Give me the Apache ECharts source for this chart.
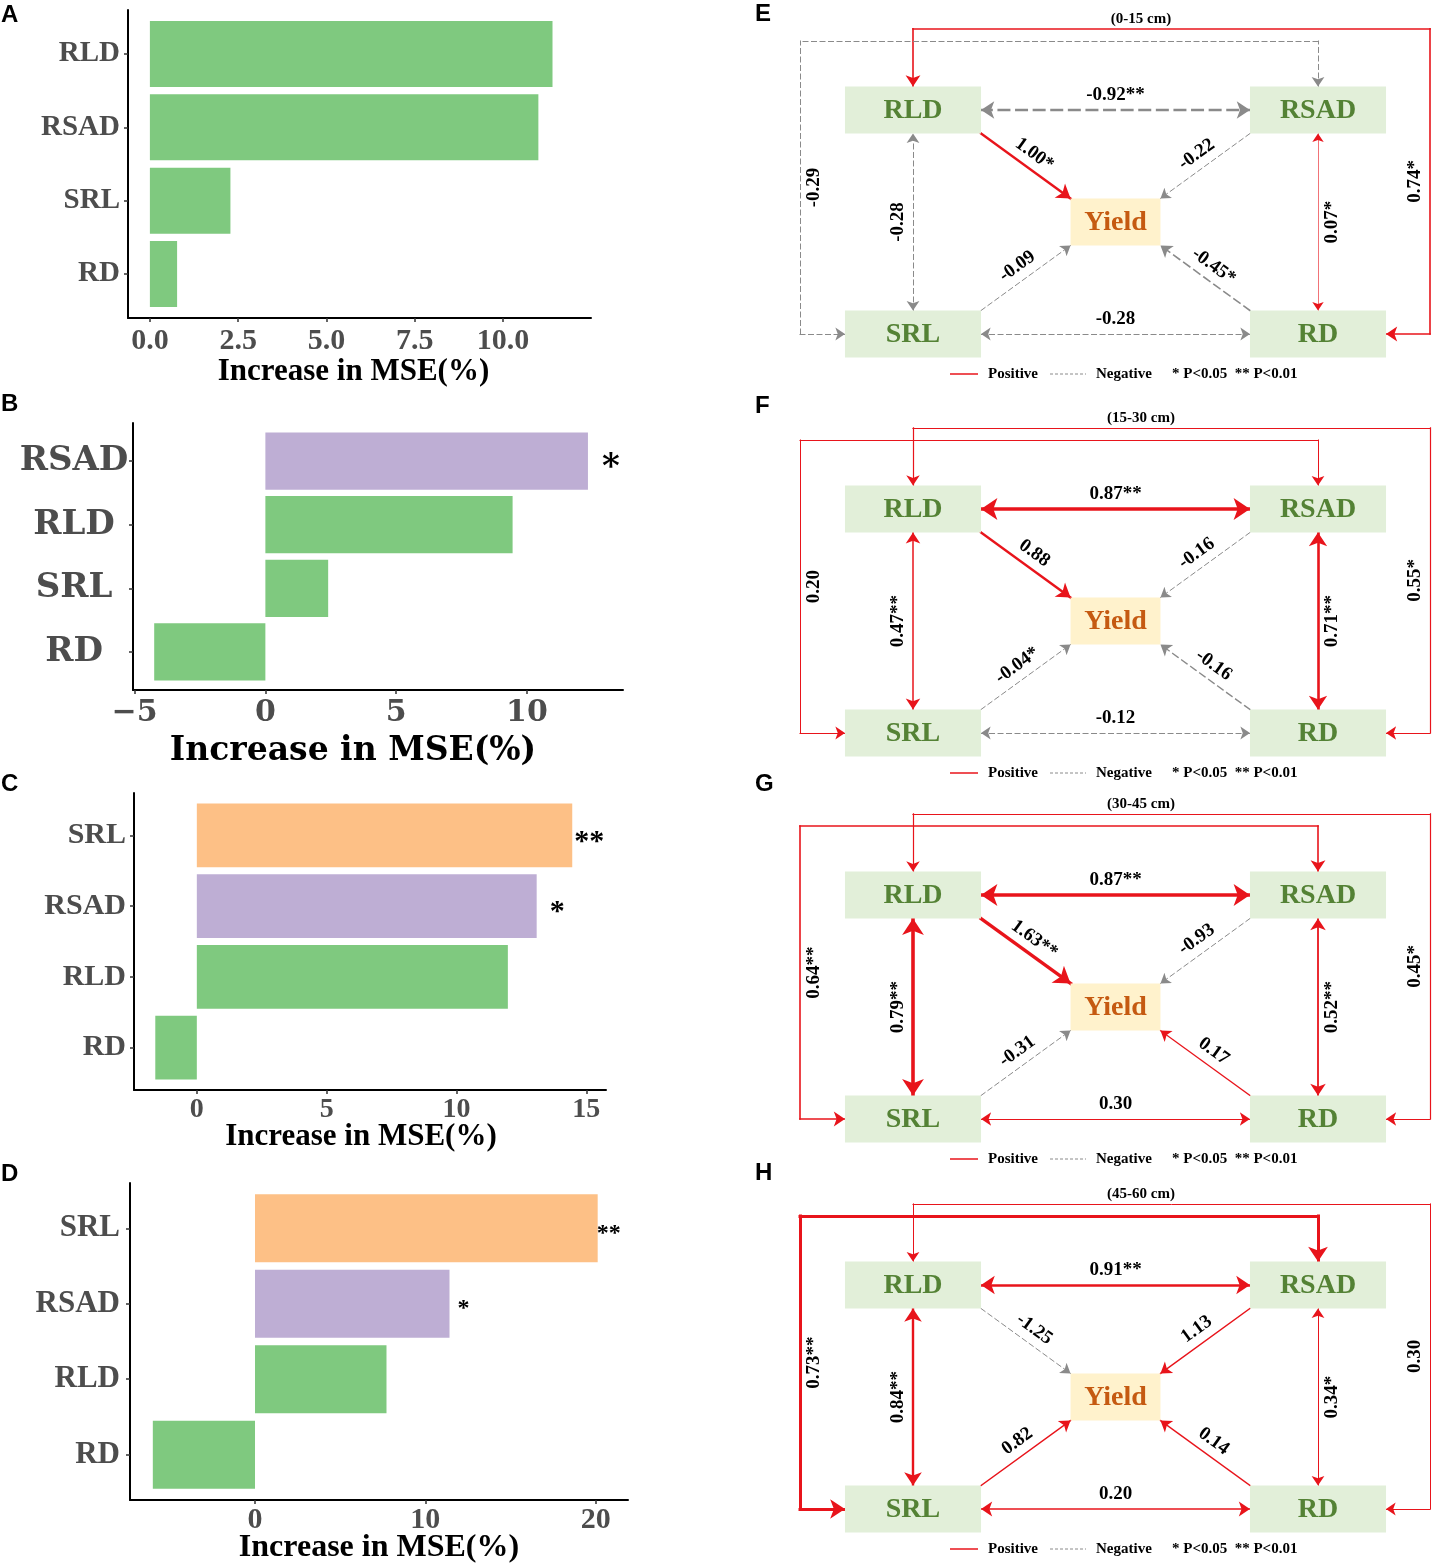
<!DOCTYPE html>
<html>
<head>
<meta charset="utf-8">
<title>Increase in MSE and path coefficients</title>
<script src="https://cdn.jsdelivr.net/npm/echarts@6/dist/echarts.min.js"></script>
<style>
  html, body { margin: 0; padding: 0; background: #fff; }
  #main { width: 1435px; height: 1566px; }
</style>
</head>
<body>
<div id="main"></div>
<script>
// random forest importance, panels A-D (top category first)
var catsA = ['RLD', 'RSAD', 'SRL', 'RD'];
var mseA = [11.4, 11.0, 2.28, 0.77];
var sigA = ['', '', '', ''];
var ticksA = [0, 2.5, 5, 7.5, 10];

var catsB = ['RSAD', 'RLD', 'SRL', 'RD'];
var mseB = [12.33, 9.45, 2.4, -4.25];
var sigB = ['*', '', '', ''];
var ticksB = [-5, 0, 5, 10];

var catsC = ['SRL', 'RSAD', 'RLD', 'RD'];
var mseC = [14.46, 13.09, 11.98, -1.6];
var sigC = ['**', '*', '', ''];
var ticksC = [0, 5, 10, 15];

var catsD = ['SRL', 'RSAD', 'RLD', 'RD'];
var mseD = [20.12, 11.42, 7.72, -6.0];
var sigD = ['**', '*', '', ''];
var ticksD = [0, 10, 20];

// path coefficients, panels E-H
// order: RLD-RSAD, RLD>Yield, RSAD>Yield, SRL>Yield, RD>Yield, RLD-SRL, RSAD-RD, SRL-RD, RLD-RD, RSAD-SRL
var depths = ['(0-15 cm)', '(15-30 cm)', '(30-45 cm)', '(45-60 cm)'];
var coefE = [-0.92, 1.00, -0.22, -0.09, -0.45, -0.28, 0.07, -0.28, 0.74, -0.29];
var sigE = ['**', '*', '', '', '*', '', '*', '', '*', ''];
var coefF = [0.87, 0.88, -0.16, -0.04, -0.16, 0.47, 0.71, -0.12, 0.55, 0.20];
var sigF = ['**', '', '', '*', '', '**', '**', '', '*', ''];
var coefG = [0.87, 1.63, -0.93, -0.31, 0.17, 0.79, 0.52, 0.30, 0.45, 0.64];
var sigG = ['**', '**', '', '', '', '**', '**', '', '*', '**'];
var coefH = [0.91, -1.25, 1.13, 0.82, 0.14, 0.84, 0.34, 0.20, 0.30, 0.73];
var sigH = ['**', '', '', '', '', '**', '*', '', '', '**'];

// ---- styles ----
var RED = '#e8141b', GREY = '#8a8a8a';
var SERIF = '"Liberation Serif", "Times New Roman", serif';
var WIDE_SERIF = '"DejaVu Serif", serif';
var SANS = '"Liberation Sans", Arial, sans-serif';
var sigFill = { '': '#7fc97f', '*': '#beaed4', '**': '#fdc086' };

var edgeWidths = {
  E: [2.4, 2.4, 1, 1, 1.6, 1, 0.6, 1, 1.6, 1],
  F: [3.6, 2.4, 1, 1, 1.4, 1.5, 2.6, 1, 1.2, 1],
  G: [3.6, 3.4, 1, 1, 1.2, 3.6, 1.8, 1.2, 1.2, 1.6],
  H: [2.6, 1, 1.4, 1.4, 1.4, 2.4, 1, 1.6, 1, 3]
};

var barPanels = [
  { letter: 'A', cats: catsA, mse: mseA, sig: sigA, ticks: ticksA, digits: 1,
    range: [-0.62, 12.49], box: { left: 128, top: 10, width: 463, height: 308 },
    family: SERIF, catSize: 29, tickSize: 30, nameSize: 31, catMargin: 8, tickMargin: 8,
    nameGap: 38, namePad: 12, catLift: 0, catAlign: 'right', starSize: 26, starGap: { '*': 8, '**': 2 }, letterTop: 3 },
  { letter: 'B', cats: catsB, mse: mseB, sig: sigB, ticks: ticksB, digits: 0,
    range: [-5.06, 13.67], box: { left: 133, top: 423, width: 490, height: 267 },
    family: WIDE_SERIF, catSize: 34, tickSize: 30, nameSize: 33, catMargin: 59, tickMargin: 8,
    nameGap: 45, namePad: 50, catLift: 14, catAlign: 'center', starSize: 34, starGap: { '*': 14, '**': 2 }, letterTop: 392 },
  { letter: 'C', cats: catsC, mse: mseC, sig: sigC, ticks: ticksC, digits: 0,
    range: [-2.42, 15.76], box: { left: 134, top: 793, width: 472, height: 297 },
    family: SERIF, catSize: 30, tickSize: 28, nameSize: 31, catMargin: 8, tickMargin: 6,
    nameGap: 31, namePad: 18, catLift: 0, catAlign: 'right', starSize: 30, starGap: { '*': 13, '**': 2 }, letterTop: 772 },
  { letter: 'D', cats: catsD, mse: mseD, sig: sigD, ticks: ticksD, digits: 0,
    range: [-7.34, 21.9], box: { left: 130, top: 1183, width: 498, height: 317 },
    family: SERIF, catSize: 31, tickSize: 30, nameSize: 32, catMargin: 10, tickMargin: 5,
    nameGap: 32, namePad: 0, catLift: 0, catAlign: 'right', starSize: 24, starGap: { '*': 8, '**': -1 }, letterTop: 1162 }
];

var pathPanels = [
  { letter: 'E', depth: depths[0], coef: coefE, sig: sigE, widths: edgeWidths.E, offset: 0, letterTop: 2 },
  { letter: 'F', depth: depths[1], coef: coefF, sig: sigF, widths: edgeWidths.F, offset: 399, letterTop: 394 },
  { letter: 'G', depth: depths[2], coef: coefG, sig: sigG, widths: edgeWidths.G, offset: 785, letterTop: 772 },
  { letter: 'H', depth: depths[3], coef: coefH, sig: sigH, widths: edgeWidths.H, offset: 1175, letterTop: 1161 }
];

// schematic layout of a path diagram (in diagram units)
var frame = { originX: 913, originY: 334, unitX: 405, unitY: 224, xRange: [-0.4, 1.28], yRange: [-0.25, 1.45] };
var nodeNames = ['RLD', 'RSAD', 'Yield', 'SRL', 'RD'];
var nodePos = { RLD: [0, 1], RSAD: [1, 1], Yield: [0.5, 0.5], SRL: [0, 0], RD: [1, 0] };
var boxHalf = [0.168, 0.105], yieldHalf = [0.111, 0.105];
var innerLoop = { top: 1.308, side: -0.279 };   // RSAD - SRL
var outerLoop = { top: 1.362, side: 1.2765 };   // RLD - RD

function half(name) { return name === 'Yield' ? yieldHalf : boxHalf; }
function anchor(name, sx, sy) {
  var p = nodePos[name], h = half(name);
  return [p[0] + sx * h[0], p[1] + sy * h[1]];
}

var straightEdges = [
  ['RLD', [1, 0], 'RSAD', [-1, 0], 'both', 'insideMiddleTop'],
  ['RLD', [1, -1], 'Yield', [-1, 1], 'end', 'insideMiddleTop'],
  ['RSAD', [-1, -1], 'Yield', [1, 1], 'end', 'insideMiddleTop'],
  ['SRL', [1, 1], 'Yield', [-1, -1], 'end', 'insideMiddleTop'],
  ['RD', [-1, 1], 'Yield', [1, -1], 'end', 'insideMiddleTop'],
  ['SRL', [0, 1], 'RLD', [0, -1], 'both', 'insideMiddleTop'],
  ['RD', [0, 1], 'RSAD', [0, -1], 'both', 'insideMiddleBottom'],
  ['SRL', [1, 0], 'RD', [-1, 0], 'both', 'insideMiddleTop']
];

function edgeItems(p) {
  var items = [];
  function push(coords, k, arrows, labelPos) {
    var pos = p.coef[k] >= 0;
    var w = p.widths[k];
    var head = 7 + 2.6 * w;
    items.push({
      coords: coords,
      symbol: [arrows === 'both' || arrows === 'start' ? 'arrow' : 'none',
               arrows === 'both' || arrows === 'end' ? 'arrow' : 'none'],
      symbolSize: [head, head],
      lineStyle: {
        color: pos ? RED : GREY, width: w, opacity: 1, cap: 'square',
        type: pos ? 'solid' : [4 * w + 1, 2.5 * w + 1]
      },
      label: labelPos ? {
        show: true, position: labelPos, distance: 5,
        formatter: p.coef[k].toFixed(2) + p.sig[k],
        color: '#000', fontFamily: SERIF, fontWeight: 'bold', fontSize: 19
      } : { show: false }
    });
  }
  straightEdges.forEach(function (e, k) {
    push([anchor(e[0], e[1][0], e[1][1]), anchor(e[2], e[3][0], e[3][1])], k, e[4], e[5]);
  });
  // RLD - RD loop round the right side
  var o = outerLoop, top0 = anchor('RLD', 0, 1), rd = anchor('RD', 1, 0);
  push([top0, [top0[0], o.top]], 8, 'start');
  push([[top0[0], o.top], [o.side, o.top]], 8, 'none');
  push([[o.side, rd[1]], [o.side, o.top]], 8, 'none', 'insideMiddleTop');
  push([[o.side, rd[1]], rd], 8, 'end');
  // RSAD - SRL loop round the left side
  var n = innerLoop, top1 = anchor('RSAD', 0, 1), srl = anchor('SRL', -1, 0);
  push([top1, [top1[0], n.top]], 9, 'start');
  push([[top1[0], n.top], [n.side, n.top]], 9, 'none');
  push([[n.side, srl[1]], [n.side, n.top]], 9, 'none', 'insideMiddleBottom');
  push([[n.side, srl[1]], srl], 9, 'end');
  return items;
}

function barRenderer(p) {
  return function (params, api) {
    var v = api.value(0), c = api.value(1);
    var p0 = api.coord([0, c]), p1 = api.coord([v, c]);
    var h = api.size([0, 0.9])[1];
    var sig = p.sig[params.dataIndex];
    var kids = [{
      type: 'rect',
      shape: { x: Math.min(p0[0], p1[0]), y: p0[1] - h / 2, width: Math.abs(p1[0] - p0[0]), height: h },
      style: { fill: sigFill[sig] }
    }];
    if (sig) {
      kids.push({
        type: 'text', x: p1[0] + p.starGap[sig], y: p1[1] + p.starSize * 0.22,
        style: { text: sig, fill: '#000', fontFamily: p.family, fontWeight: 'bold',
                 fontSize: p.starSize, align: 'left', verticalAlign: 'middle' }
      });
    }
    return { type: 'group', children: kids };
  };
}

function nodeRenderer(params, api) {
  var name = nodeNames[params.dataIndex];
  var h = half(name);
  var c = api.coord([api.value(0), api.value(1)]);
  var s = api.size([2 * h[0], 2 * h[1]]);
  var isY = name === 'Yield';
  return {
    type: 'group',
    children: [
      { type: 'rect', shape: { x: c[0] - s[0] / 2, y: c[1] - s[1] / 2, width: s[0], height: s[1] },
        style: { fill: isY ? '#fff2cc' : '#e2efd9' } },
      { type: 'text', x: c[0], y: c[1] + 1,
        style: { text: name, fill: isY ? '#c55a11' : '#548235', fontFamily: SERIF, fontWeight: 'bold',
                 fontSize: 28, align: 'center', verticalAlign: 'middle' } }
    ]
  };
}

function letterTitle(t, left, top) {
  return { text: t, left: left, top: top, padding: 0,
           textStyle: { fontFamily: SANS, fontWeight: 'bold', fontSize: 24, color: '#000' } };
}

var grids = [], xAxes = [], yAxes = [], series = [], titles = [], graphics = [];

barPanels.forEach(function (p, i) {
  var idx = p.cats.map(function (c, k) { return k; });
  grids.push({ left: p.box.left, top: p.box.top, width: p.box.width, height: p.box.height,
               containLabel: false, outerBoundsMode: 'none' });
  titles.push(letterTitle(p.letter, 1, p.letterTop));
  xAxes.push({
    gridIndex: i, type: 'value', min: p.range[0], max: p.range[1], position: 'bottom',
    axisLine: { show: true, onZero: false, lineStyle: { color: '#000', width: 2 } },
    axisTick: { show: true, length: 4, customValues: p.ticks, lineStyle: { color: '#333', width: 1.5 } },
    axisLabel: {
      show: true, customValues: p.ticks, margin: p.tickMargin, color: '#4d4d4d',
      fontFamily: p.family, fontWeight: 'bold', fontSize: p.tickSize,
      formatter: function (v) { return v.toFixed(p.digits).replace('-', '\u2212'); }
    },
    splitLine: { show: false },
    name: 'Increase in MSE(%)', nameLocation: 'middle', nameGap: p.nameGap, nameMoveOverlap: false,
    nameTextStyle: { color: '#000', fontFamily: p.family, fontWeight: 'bold', fontSize: p.nameSize,
                     padding: [0, p.namePad, 0, 0] }
  });
  yAxes.push({
    gridIndex: i, type: 'value', min: -0.6, max: p.cats.length - 0.4, inverse: true,
    axisLine: { show: true, onZero: false, lineStyle: { color: '#000', width: 2 } },
    axisTick: { show: true, length: 4, customValues: idx, lineStyle: { color: '#333', width: 1.5 } },
    axisLabel: {
      show: true, customValues: idx, margin: p.catMargin, color: '#4d4d4d', align: p.catAlign,
      fontFamily: p.family, fontWeight: 'bold', fontSize: p.catSize, padding: [0, 0, p.catLift, 0],
      formatter: function (v) { return p.cats[Math.round(v)]; }
    },
    splitLine: { show: false }
  });
  series.push({
    type: 'custom', xAxisIndex: i, yAxisIndex: i, silent: true,
    data: p.mse.map(function (v, k) { return [v, k]; }),
    encode: { x: 0, y: 1 },
    renderItem: barRenderer(p)
  });
});

pathPanels.forEach(function (p, j) {
  var gi = barPanels.length + j;
  var off = p.offset;
  grids.push({
    left: frame.originX + frame.xRange[0] * frame.unitX,
    width: (frame.xRange[1] - frame.xRange[0]) * frame.unitX,
    top: off + frame.originY - frame.yRange[1] * frame.unitY,
    height: (frame.yRange[1] - frame.yRange[0]) * frame.unitY,
    containLabel: false, outerBoundsMode: 'none'
  });
  xAxes.push({ gridIndex: gi, type: 'value', show: false, min: frame.xRange[0], max: frame.xRange[1] });
  yAxes.push({ gridIndex: gi, type: 'value', show: false, min: frame.yRange[0], max: frame.yRange[1] });
  titles.push(letterTitle(p.letter, 755, p.letterTop));
  series.push({
    type: 'lines', coordinateSystem: 'cartesian2d', xAxisIndex: gi, yAxisIndex: gi,
    silent: true, z: 2, data: edgeItems(p)
  });
  series.push({
    type: 'custom', coordinateSystem: 'cartesian2d', xAxisIndex: gi, yAxisIndex: gi,
    silent: true, z: 3,
    data: nodeNames.map(function (n) { return nodePos[n]; }),
    encode: { x: 0, y: 1 },
    renderItem: nodeRenderer
  });

  var ly = off + 374;
  var txt = { fill: '#000', fontFamily: SERIF, fontWeight: 'bold', fontSize: 15, verticalAlign: 'middle' };
  graphics.push(
    { type: 'text', x: 1141, y: off + 19, style: Object.assign({ text: p.depth, align: 'center' }, txt) },
    { type: 'line', shape: { x1: 950, y1: ly, x2: 978, y2: ly }, style: { stroke: RED, lineWidth: 1.5 } },
    { type: 'text', x: 988, y: ly, style: Object.assign({ text: 'Positive', align: 'left' }, txt) },
    { type: 'line', shape: { x1: 1050, y1: ly, x2: 1086, y2: ly }, style: { stroke: GREY, lineWidth: 1, lineDash: [3, 2] } },
    { type: 'text', x: 1096, y: ly, style: Object.assign({ text: 'Negative', align: 'left' }, txt) },
    { type: 'text', x: 1172, y: ly, style: Object.assign({ text: '* P<0.05  ** P<0.01', align: 'left' }, txt) }
  );
});

var myChart = echarts.init(document.getElementById('main'));
myChart.setOption({
  backgroundColor: '#fff',
  animation: false,
  title: titles,
  grid: grids,
  xAxis: xAxes,
  yAxis: yAxes,
  graphic: graphics,
  series: series
});
</script>
</body>
</html>
